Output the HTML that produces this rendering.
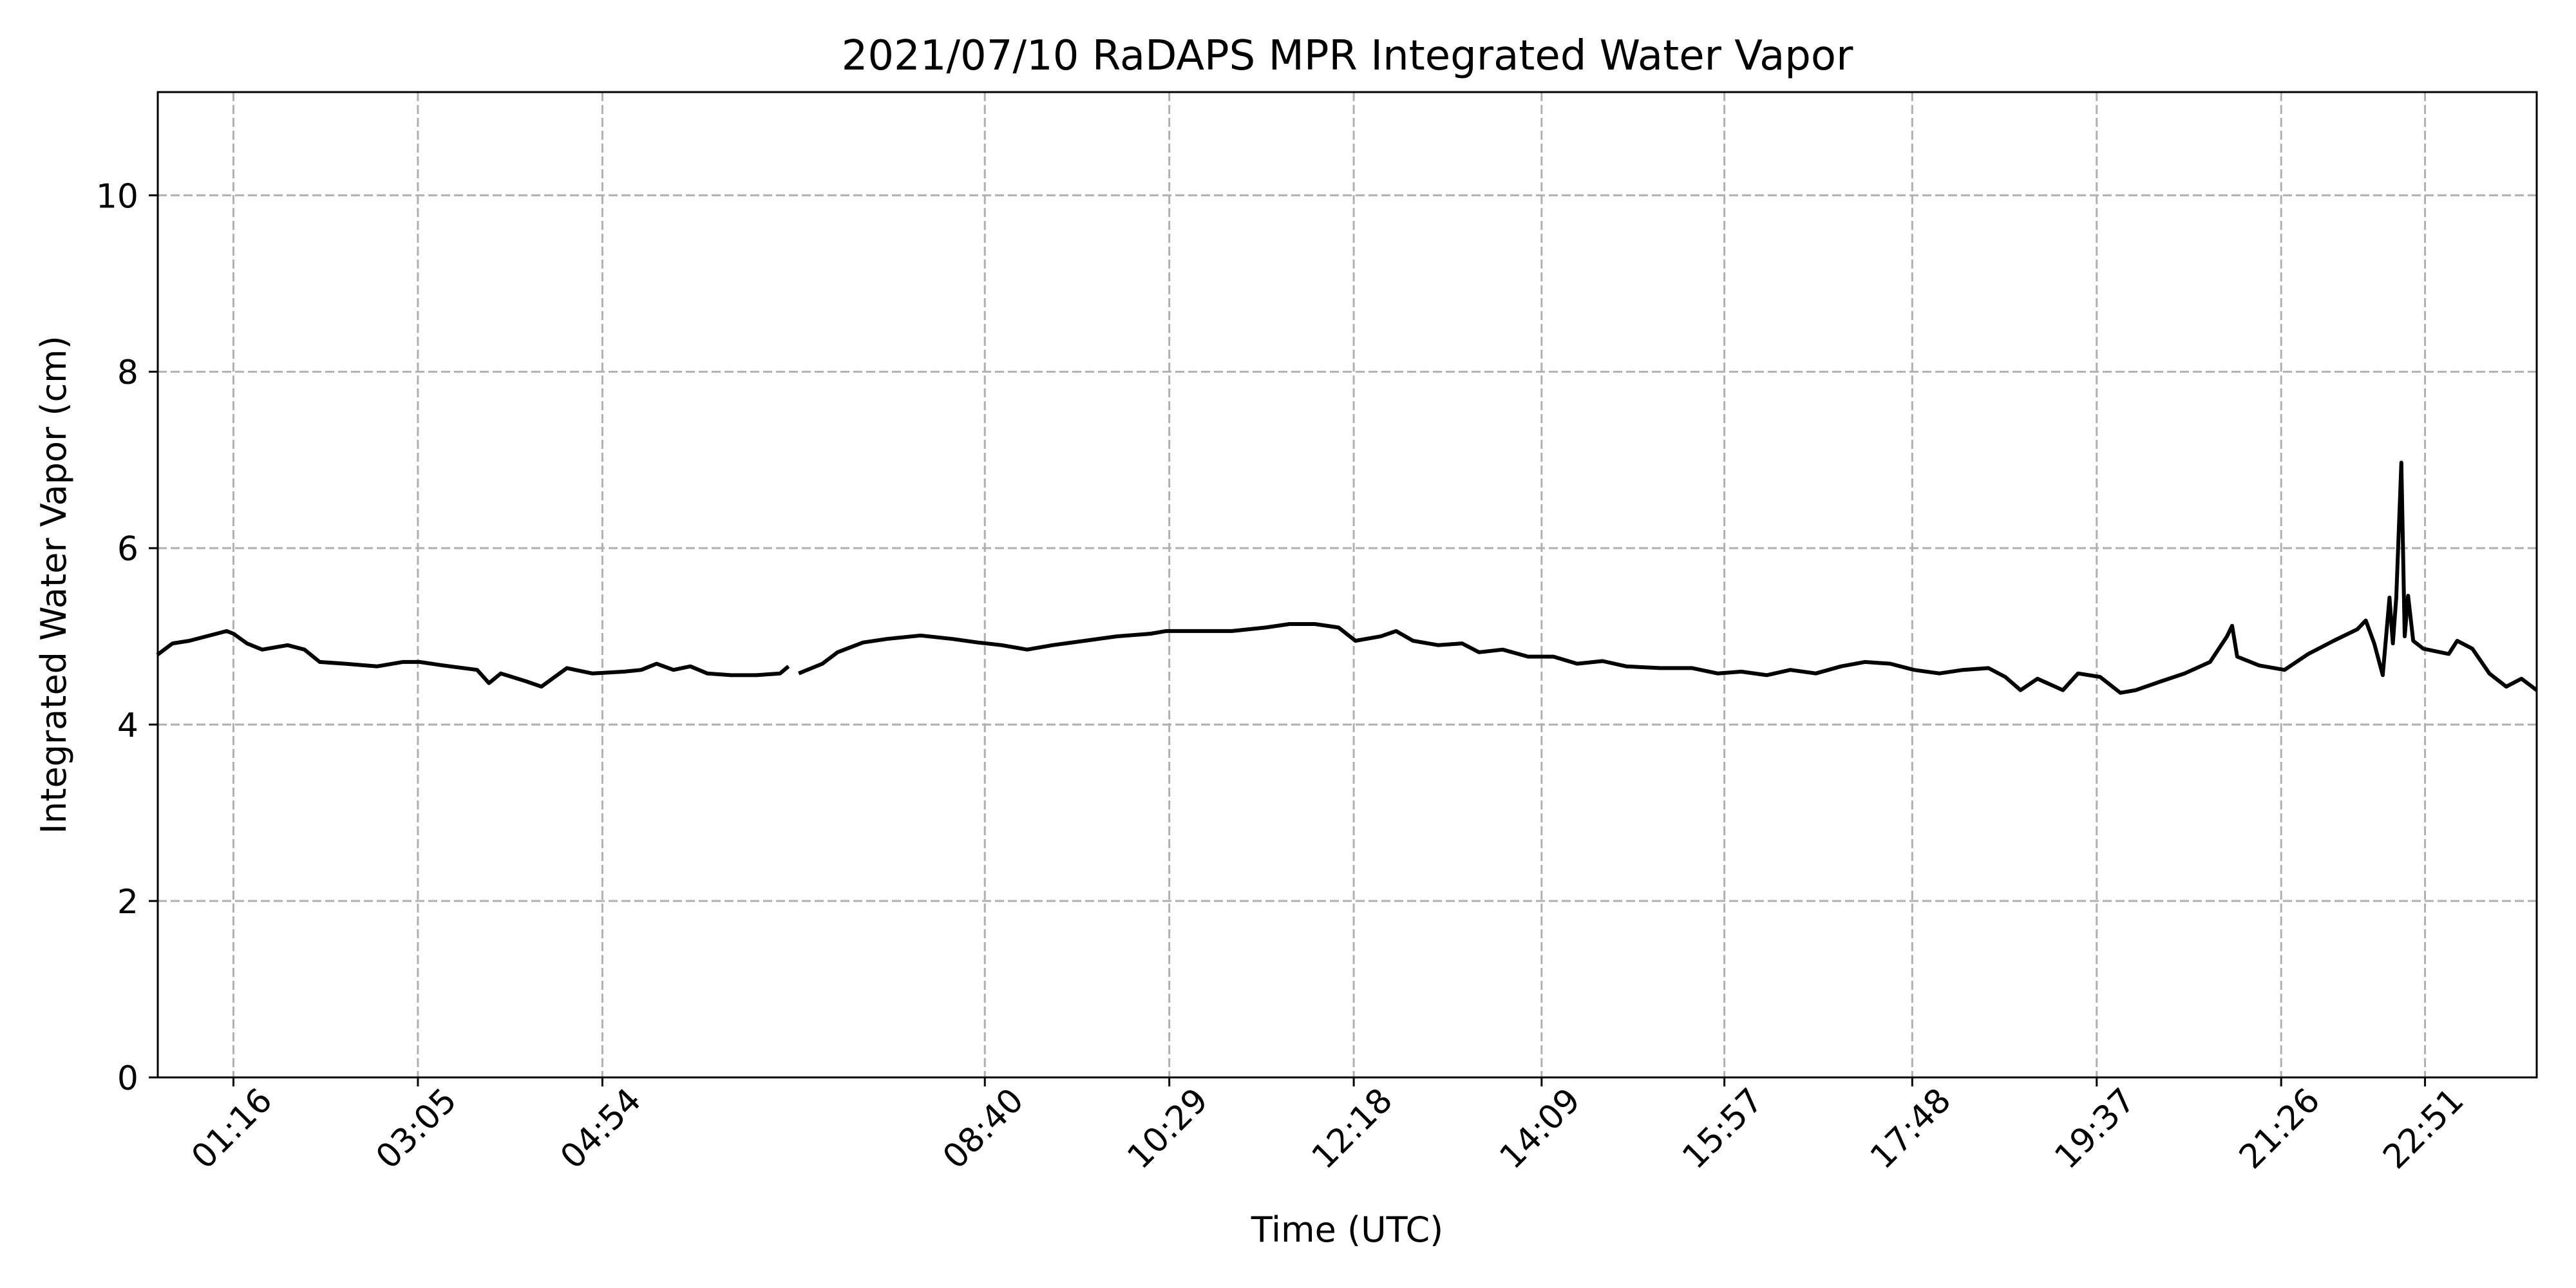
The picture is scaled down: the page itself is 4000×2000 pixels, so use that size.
<!DOCTYPE html>
<html><head><meta charset="utf-8"><style>
html,body{margin:0;padding:0;background:#fff;}
svg{display:block;font-family:"DejaVu Sans","Liberation Sans",sans-serif;}
</style></head><body>
<svg id="chart" width="4000" height="2000" viewBox="0 0 4000 2000" xmlns="http://www.w3.org/2000/svg">
<rect width="4000" height="2000" fill="#fff"/>
<g id="grid"></g>
<g id="series"></g>
<rect x="245" y="143" width="3694" height="1530" fill="none" stroke="#000" stroke-width="3"/>
<g id="axes"></g>
<text x="2092" y="108" font-size="64" text-anchor="middle">2021/07/10 RaDAPS MPR Integrated Water Vapor</text>
<text x="2092" y="1928" font-size="54" text-anchor="middle">Time (UTC)</text>
<text x="0" y="0" font-size="54" text-anchor="middle" transform="translate(102,908) rotate(-90)">Integrated Water Vapor (cm)</text>
</svg>
<script>
const times = [31,40,50,60,72,76,84,93,108,118,127,142,161,176,186,200,220,227,234,249,258,273,288,307,317,326,336,346,356,370,385,399,404,407,410,424,433,448,462,482,501,516,530,545,560,579,598,618,627,647,666,686,700,715,729,739,754,763,773,788,802,812,826,841,856,870,885,899,919,938,953,967,982,996,1011,1026,1040,1055,1069,1084,1098,1113,1123,1132,1142,1157,1166,1179,1191,1200,1215,1229,1244,1254,1257,1260,1273,1288,1302,1317,1331,1336,1341,1346,1350,1352,1354,1357,1359,1361,1364,1370,1385,1390,1399,1409,1419,1428,1437];
const iwv = [4.79,4.92,4.95,5.0,5.06,5.03,4.92,4.85,4.9,4.85,4.71,4.69,4.66,4.71,4.71,4.67,4.62,4.47,4.58,4.49,4.43,4.64,4.58,4.6,4.62,4.69,4.62,4.66,4.58,4.56,4.56,4.58,4.66,null,4.58,4.69,4.82,4.93,4.97,5.01,4.97,4.93,4.9,4.85,4.9,4.95,5.0,5.03,5.06,5.06,5.06,5.1,5.14,5.14,5.1,4.95,5.0,5.06,4.95,4.9,4.92,4.82,4.85,4.77,4.77,4.69,4.72,4.66,4.64,4.64,4.58,4.6,4.56,4.62,4.58,4.66,4.71,4.69,4.62,4.58,4.62,4.64,4.54,4.39,4.52,4.39,4.58,4.54,4.36,4.39,4.49,4.58,4.71,5.0,5.12,4.77,4.67,4.62,4.8,4.95,5.08,5.18,4.92,4.56,5.44,4.92,5.44,6.97,5.0,5.46,4.95,4.86,4.8,4.95,4.86,4.58,4.43,4.52,4.39];
const yTicks = [0,2,4,6,8,10];
const xTickMinutes = [76,185,294,520,629,738,849,957,1068,1177,1286,1371];
const xTickLabels = ["01:16","03:05","04:54","08:40","10:29","12:18","14:09","15:57","17:48","19:37","21:26","22:51"];

const L=245,R=3939,T=143,B=1673, XMIN=31.3, XMAX=1437, YMIN=0, YMAX=11.17;
function xs(t){return L+(t-XMIN)/(XMAX-XMIN)*(R-L);}
function ys(v){return B-(v-YMIN)/(YMAX-YMIN)*(B-T);}
const NS="http://www.w3.org/2000/svg";
const grid=document.getElementById('grid'), axes=document.getElementById('axes'), series=document.getElementById('series');
function mk(tag,attrs,parent){const e=document.createElementNS(NS,tag);for(const k in attrs)e.setAttribute(k,attrs[k]);parent.appendChild(e);return e;}

yTicks.forEach(v=>{
  const y=ys(v);
  if(v>0){const g=mk('line',{x1:L,x2:R,y1:y,y2:y,stroke:'#b0b0b0','stroke-width':3,'stroke-dasharray':'14,6'},grid);
  
  }
  const tk=mk('line',{x1:L-14,x2:L,y1:y,y2:y,stroke:'#000','stroke-width':3},axes);
  
  
  const tx=mk('text',{x:L-30,y:y+19,'font-size':52,'text-anchor':'end'},axes);
  
  
  tx.textContent=String(v);
});
xTickMinutes.forEach((t,i)=>{
  const x=xs(t);
  const g=mk('line',{x1:x,x2:x,y1:T,y2:B,stroke:'#b0b0b0','stroke-width':3,'stroke-dasharray':'14,6'},grid);
  
  
  const tk=mk('line',{x1:x,x2:x,y1:B,y2:B+14,stroke:'#000','stroke-width':3},axes);
  
  
  const tx=mk('text',{x:0,y:0,'font-size':52,'text-anchor':'middle','dominant-baseline':'middle',transform:'translate('+x+',1755) rotate(-45)'},axes);
  
  
  tx.textContent=xTickLabels[i];
});
let segs=[],cur=[];
times.forEach((t,i)=>{const v=iwv[i]; if(v===null){if(cur.length)segs.push(cur);cur=[];} else cur.push(xs(t).toFixed(1)+','+ys(v).toFixed(1));});
if(cur.length)segs.push(cur);
segs.forEach(s=>{
  const p=mk('polyline',{points:s.join(' '),fill:'none',stroke:'#000','stroke-width':6,'stroke-linejoin':'round'},series);
  
  
});
</script>
</body></html>
